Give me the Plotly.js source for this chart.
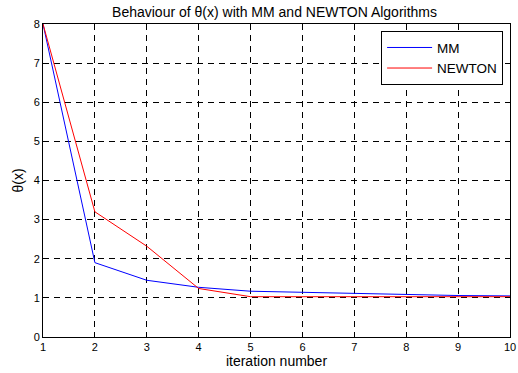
<!DOCTYPE html>
<html><head><meta charset="utf-8">
<script src="https://cdn.plot.ly/plotly-3.0.1.min.js"></script>
<style>html,body{margin:0;padding:0;background:#fff;}#c{width:518px;height:373px;}</style>
</head><body><div id="c"></div>
<script>
const iterations = [1,2,3,4,5,6,7,8,9,10];
const mmValues = [8, 1.9, 1.45, 1.27, 1.17, 1.14, 1.11, 1.08, 1.06, 1.05];
const newtonValues = [8, 3.2, 2.32, 1.24, 1.03, 1.03, 1.03, 1.03, 1.03, 1.03];
const xTicks = [1,2,3,4,5,6,7,8,9,10];
const yTicks = [0,1,2,3,4,5,6,7,8];

const fam = 'Liberation Sans, Arial, sans-serif';
const font = {family: fam, size: 11, color: '#000'};
const bigFont = {family: fam, size: 14, color: '#000'};
const legFont = {family: fam, size: 13.5, color: '#000'};
const axisCommon = {
  showline: true, linecolor: '#000', linewidth: 1, mirror: 'ticks',
  ticks: 'inside', ticklen: 5, tickcolor: '#000', tickwidth: 1,
  showgrid: true, gridcolor: '#000', gridwidth: 1, griddash: '6px,5px',
  zeroline: false, tickfont: font
};
const data = [
  {x: iterations, y: mmValues, name: 'MM', mode: 'lines', line: {color: '#0000ff', width: 1}},
  {x: iterations, y: newtonValues, name: 'NEWTON', mode: 'lines', line: {color: '#ff0000', width: 1}}
];
const layout = {
  width: 518, height: 373,
  margin: {l: 43, r: 8, t: 24, b: 36},
  paper_bgcolor: '#fff', plot_bgcolor: '#fff',
  font: font,
  showlegend: true,
  title: {text: 'Behaviour of θ(x) with MM and NEWTON Algorithms', font: bigFont, x: 0.53, xanchor: 'center', y: 0.968, yanchor: 'middle'},
  xaxis: Object.assign({}, axisCommon, {range: [1, 10], tickvals: xTicks, ticktext: xTicks.map(String),
    title: {text: 'iteration number', font: bigFont, standoff: 2}}),
  yaxis: Object.assign({}, axisCommon, {range: [0, 8], tickvals: yTicks, ticktext: yTicks.map(String),
    title: {text: 'θ(x)', font: bigFont, standoff: 6}}),
  legend: {x: 0.724, y: 0.977, xanchor: 'left', yanchor: 'top', bgcolor: '#fff', bordercolor: '#000', borderwidth: 1,
    font: legFont, tracegroupgap: 0, itemwidth: 45}
};
Plotly.newPlot('c', data, layout, {displayModeBar: false, staticPlot: true});
</script></body></html>
